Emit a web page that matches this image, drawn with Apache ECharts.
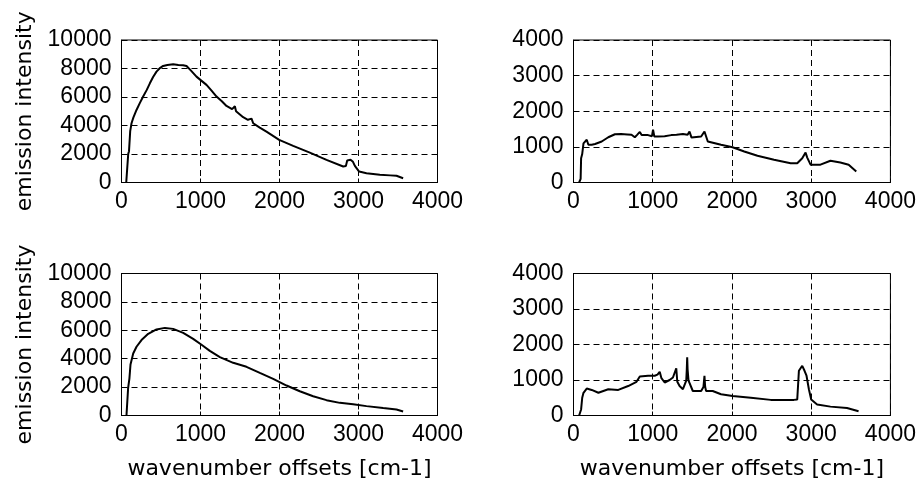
<!DOCTYPE html>
<html>
<head>
<meta charset="utf-8">
<script src="https://cdn.jsdelivr.net/npm/echarts@6/dist/echarts.min.js"></script>
<style>
html,body{margin:0;padding:0;background:#fff;}
#chart{width:919px;height:488px;}
</style>
</head>
<body>
<div id="chart"></div>
<script>
// ---- Data ----
const xTicks = [0, 1000, 2000, 3000, 4000];
const yTicksLeft = [0, 2000, 4000, 6000, 8000, 10000];
const yTicksRight = [0, 1000, 2000, 3000, 4000];
const xAxisTitle = 'wavenumber offsets [cm-1]';
const yAxisTitle = 'emission intensity';

// Panel 1 (top-left)
const wn1 = [60, 75, 85, 95, 110, 127, 150, 190, 230, 274, 320, 359, 400, 443, 490, 527, 580, 654, 720, 780, 823, 880, 949, 1010, 1076, 1140, 1203, 1270, 1329, 1400, 1435, 1450, 1540, 1600, 1646, 1667, 1750, 1835, 1996, 2173, 2384, 2595, 2806, 2840, 2857, 2899, 2930, 2954, 3008, 3101, 3270, 3400, 3481, 3565];
const em1 = [0, 0, 2000, 2200, 3600, 4160, 4550, 5090, 5550, 6030, 6500, 6960, 7400, 7780, 8050, 8180, 8250, 8290, 8250, 8230, 8180, 7850, 7430, 7150, 6850, 6450, 6030, 5700, 5370, 5150, 5350, 5000, 4580, 4400, 4480, 4160, 3850, 3570, 2990, 2570, 2100, 1590, 1120, 1150, 1540, 1590, 1450, 1170, 770, 650, 540, 500, 470, 300];

// Panel 2 (top-right)
const wn2 = [71, 90, 96, 110, 126, 167, 188, 230, 272, 356, 439, 523, 600, 680, 732, 774, 800, 837, 860, 941, 990, 1004, 1020, 1067, 1150, 1234, 1300, 1381, 1440, 1464, 1490, 1506, 1611, 1653, 1695, 1862, 2008, 2155, 2322, 2531, 2741, 2824, 2887, 2929, 2950, 2971, 2992, 3117, 3243, 3368, 3473, 3569];
const em2 = [0, 100, 680, 800, 1100, 1200, 1060, 1060, 1080, 1150, 1270, 1355, 1360, 1350, 1340, 1270, 1330, 1420, 1330, 1330, 1300, 1480, 1290, 1290, 1300, 1330, 1340, 1360, 1340, 1430, 1260, 1240, 1290, 1430, 1150, 1060, 990, 870, 750, 640, 540, 540, 680, 840, 700, 680, 500, 500, 610, 560, 500, 310];

// Panel 3 (bottom-left)
const wn3 = [63, 75, 84, 100, 114, 148, 190, 253, 338, 443, 549, 654, 781, 907, 1013, 1118, 1245, 1414, 1582, 1751, 1920, 2089, 2257, 2426, 2595, 2764, 2932, 3101, 3312, 3481, 3565];
const em3 = [0, 0, 1950, 2600, 3590, 4370, 4840, 5310, 5750, 6060, 6170, 6100, 5820, 5400, 4980, 4550, 4110, 3710, 3430, 3000, 2580, 2110, 1710, 1360, 1080, 890, 800, 660, 520, 420, 280];

// Panel 4 (bottom-right)
const wn4 = [71, 90, 96, 110, 126, 167, 230, 314, 439, 565, 690, 795, 837, 941, 1025, 1060, 1088, 1110, 1151, 1213, 1255, 1280, 1297, 1310, 1339, 1381, 1423, 1430, 1435, 1440, 1452, 1506, 1611, 1640, 1653, 1662, 1674, 1757, 1862, 2008, 2238, 2490, 2782, 2824, 2845, 2870, 2887, 2916, 2941, 2971, 3000, 3075, 3243, 3452, 3598];
const em4 = [0, 20, 170, 500, 640, 760, 720, 640, 740, 720, 830, 950, 1100, 1120, 1120, 1150, 1230, 1050, 930, 1000, 1070, 1100, 1330, 950, 830, 740, 980, 1300, 1640, 1300, 980, 690, 690, 800, 1120, 800, 690, 690, 600, 550, 500, 440, 440, 450, 1260, 1300, 1400, 1260, 1120, 740, 450, 310, 250, 210, 120];

// ---- Chart ----
const zip = (xs, ys) => xs.map((x, i) => [x, ys[i]]);
const plain = v => String(v);
const tickFont = { fontFamily: 'Liberation Sans', fontSize: 23, color: '#000' };
const nameFont = { fontFamily: 'DejaVu Sans', fontSize: 22, color: '#000' };
const dashed = { show: true, lineStyle: { color: '#000', type: [6, 4], width: 1 } };

const grids = [
  { left: 121.5, top: 40, width: 316, height: 142.5 },
  { left: 573.5, top: 40, width: 319, height: 142.5 },
  { left: 121.5, top: 273.5, width: 316, height: 142 },
  { left: 573.5, top: 273.5, width: 319, height: 142 }
];

function xAxis(i, withName) {
  return {
    type: 'value', gridIndex: i, min: xTicks[0], max: xTicks[xTicks.length - 1], interval: xTicks[1] - xTicks[0],
    axisLine: { show: true, lineStyle: { color: '#000', width: 1 } },
    axisTick: { show: true, inside: true, length: 4, lineStyle: { color: '#000' } },
    axisLabel: Object.assign({ margin: 8, formatter: plain }, tickFont),
    splitLine: dashed,
    name: withName ? xAxisTitle : '',
    nameLocation: 'middle', nameGap: 43, nameTextStyle: nameFont
  };
}
function yAxis(i, ticks, withName) {
  return {
    type: 'value', gridIndex: i, min: ticks[0], max: ticks[ticks.length - 1], interval: ticks[1] - ticks[0],
    axisLine: { show: true, lineStyle: { color: '#000', width: 1 } },
    axisTick: { show: true, inside: true, length: 4, lineStyle: { color: '#000' } },
    axisLabel: Object.assign({ margin: 10, formatter: plain }, tickFont),
    splitLine: dashed,
    name: withName ? yAxisTitle : '',
    nameLocation: 'middle', nameGap: 85, nameTextStyle: nameFont
  };
}

const panels = [zip(wn1, em1), zip(wn2, em2), zip(wn3, em3), zip(wn4, em4)];

const option = {
  backgroundColor: '#fff',
  animation: false,
  grid: grids.map(g => Object.assign({ show: true, borderColor: '#000', borderWidth: 1, backgroundColor: 'transparent' }, g)),
  xAxis: [xAxis(0, false), xAxis(1, false), xAxis(2, true), xAxis(3, true)],
  yAxis: [yAxis(0, yTicksLeft, true), yAxis(1, yTicksRight, false), yAxis(2, yTicksLeft, true), yAxis(3, yTicksRight, false)],
  series: panels.map((d, i) => ({
    type: 'line', xAxisIndex: i, yAxisIndex: i, data: d,
    showSymbol: false, symbol: 'none',
    lineStyle: { color: '#000', width: 2 },
    z: 5
  }))
};

const chart = echarts.init(document.getElementById('chart'), null, { renderer: 'canvas' });
chart.setOption(option);
</script>
</body>
</html>
